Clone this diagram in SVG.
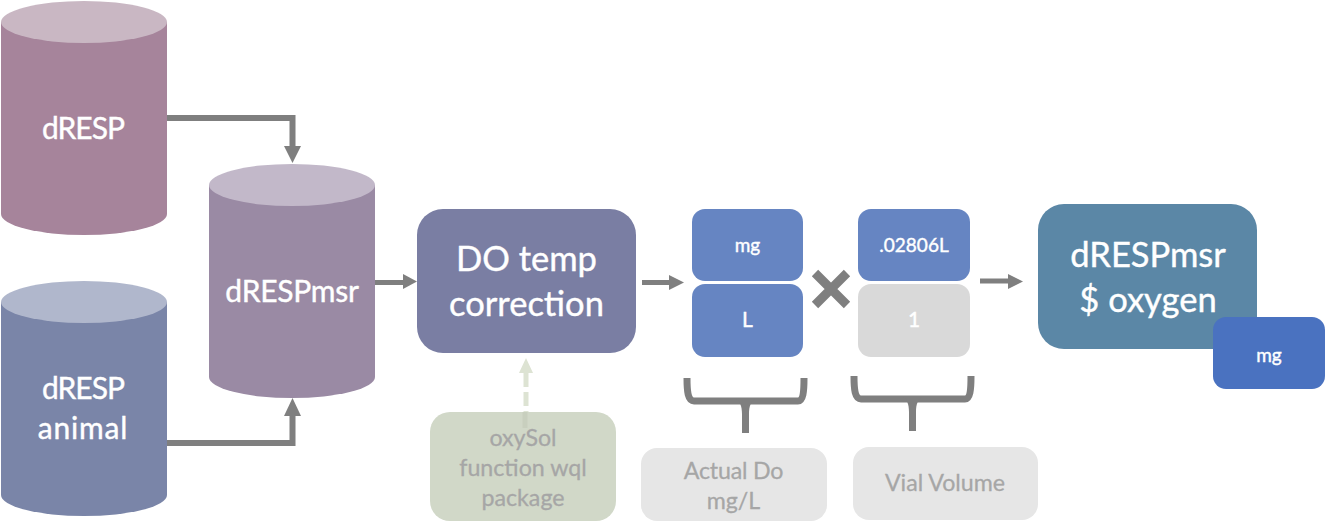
<svg xmlns="http://www.w3.org/2000/svg" width="1327" height="529" viewBox="0 0 1327 529">
<style>
text{font-family:"Lato","Open Sans","Liberation Sans",sans-serif;text-anchor:middle}
.w{fill:#fff;stroke:#fff;stroke-width:.4}.g{fill:#a6a6a6;stroke:#a6a6a6;stroke-width:.3}
.t30{font-size:30px}.t34{font-size:34.500px}.t24{font-size:23.200px}.t18{font-size:19px}.t21{font-size:21px}
.ln{fill:none;stroke:#7f7f7f;stroke-width:6}
.ln5{fill:none;stroke:#7f7f7f;stroke-width:5}
.hd{fill:#7f7f7f}
.br{fill:none;stroke:#7f7f7f;stroke-width:7}
</style>
<rect width="1327" height="529" fill="#fff"/>
<g id="node-dresp">
<path d="M1 22V214A83 21 0 0 0 167 214V22Z" fill="#a6849b"/>
<ellipse cx="84" cy="22" rx="83" ry="21" fill="#c9b7c3"/>
<text class="w t30" x="83" y="139" letter-spacing="-1">dRESP</text>
</g>
<g id="node-dresp-animal">
<path d="M1 302V495A83 21 0 0 0 167 495V302Z" fill="#7a85a8"/>
<ellipse cx="84" cy="302" rx="83" ry="21" fill="#b0b7cc"/>
<text class="w t30" x="83" y="399" letter-spacing="-1">dRESP</text>
<text class="w t30" x="83" y="439" letter-spacing=".8">animal</text>
</g>
<g id="node-drespmsr">
<path d="M209 185V377A83 21 0 0 0 375 377V185Z" fill="#9a8aa4"/>
<ellipse cx="292" cy="185" rx="83" ry="21" fill="#c2b8c9"/>
<text class="w t30" x="292" y="302" letter-spacing="-.25">dRESPmsr</text>
</g>
<g id="node-do-temp">
<rect x="417" y="209" width="219" height="144" rx="26" fill="#7a7ea3"/>
<text class="w t34" x="526.500" y="270.500">DO temp</text>
<text class="w t34" x="526.500" y="316">correction</text>
</g>
<g id="node-mg"><rect x="692" y="209" width="111" height="72" rx="13" fill="#6685c2"/><text class="w t18" x="747.500" y="252">mg</text></g>
<g id="node-l"><rect x="692" y="284" width="111" height="73" rx="13" fill="#6685c2"/><text class="w t21" x="747.500" y="327">L</text></g>
<g id="node-vial-top"><rect x="858" y="209" width="112" height="72" rx="13" fill="#6685c2"/><text class="w t18" x="914" y="252">.02806L</text></g>
<g id="node-one"><rect x="858" y="284" width="112" height="73" rx="13" fill="#d9d9d9"/><text class="w t21" x="914" y="327">1</text></g>
<g id="node-result">
<rect x="1038" y="204" width="219" height="145" rx="26" fill="#5b87a6"/>
<text class="w t34" x="1148" y="267">dRESPmsr</text>
<text class="w t34" x="1148" y="312">$ oxygen</text>
</g>
<g id="node-result-mg"><rect x="1213" y="317" width="112" height="72" rx="13" fill="#4a72c0"/><text class="w t18" x="1269" y="362">mg</text></g>
<g id="connectors">
<path class="ln" d="M167 118H292.500V146"/><path class="hd" d="M284 146H301L292.500 163Z"/>
<path class="ln" d="M167 443H292.500V416"/><path class="hd" d="M284 416H301L292.500 398Z"/>
<path class="ln5" d="M375 282.500H404"/><path class="hd" d="M403 274L417 281.500L403 289Z"/>
<path class="ln5" d="M642 282.500H670"/><path class="hd" d="M669 275L684 282.500L669 290Z"/>
<path class="ln5" d="M980 281H1009"/><path class="hd" d="M1008 274L1023 281.500L1008 289Z"/>
<path d="M526 373V428" fill="none" stroke="#dde3d3" stroke-width="5" stroke-dasharray="14 5"/>
<path d="M519 373H533L526 358Z" fill="#dde3d3"/>
<path d="M815 273L847 305M847 273L815 305" fill="none" stroke="#7f7f7f" stroke-width="9"/>
<path class="br" d="M687 378C687 392 688 401 694 401H798C803 401 804 392 804 378M745.500 401V433"/>
<path class="hd" d="M735 398H756C751 401 749 406 749 414H742C742 406 740 401 735 398Z"/>
<path class="br" d="M854 376C854 390 855 399 861 399H965C970 399 971 390 971 376M912.500 399V431"/>
<path class="hd" d="M902 396H923C918 399 916 404 916 412H909C909 404 907 399 902 396Z"/>
</g>
<g id="node-oxysol">
<rect x="430" y="412" width="186" height="109" rx="20" fill="#d1d8c8"/>
<path d="M525 412V428" stroke="#c8cfbe" stroke-width="5" fill="none"/>
<text class="g t24" x="523" y="446">oxySol</text>
<text class="g t24" x="523" y="476">function wql</text>
<text class="g t24" x="523" y="506">package</text>
</g>
<g id="node-actual-do">
<rect x="641" y="448" width="186" height="73" rx="16" fill="#e6e6e6"/>
<text class="g t24" x="733.500" y="479" letter-spacing="-.2">Actual Do</text>
<text class="g t24" x="733.500" y="509">mg/L</text>
</g>
<g id="node-vial-volume">
<rect x="853" y="447" width="185" height="73" rx="16" fill="#e6e6e6"/>
<text class="g t24" x="945" y="491">Vial Volume</text>
</g>
</svg>
